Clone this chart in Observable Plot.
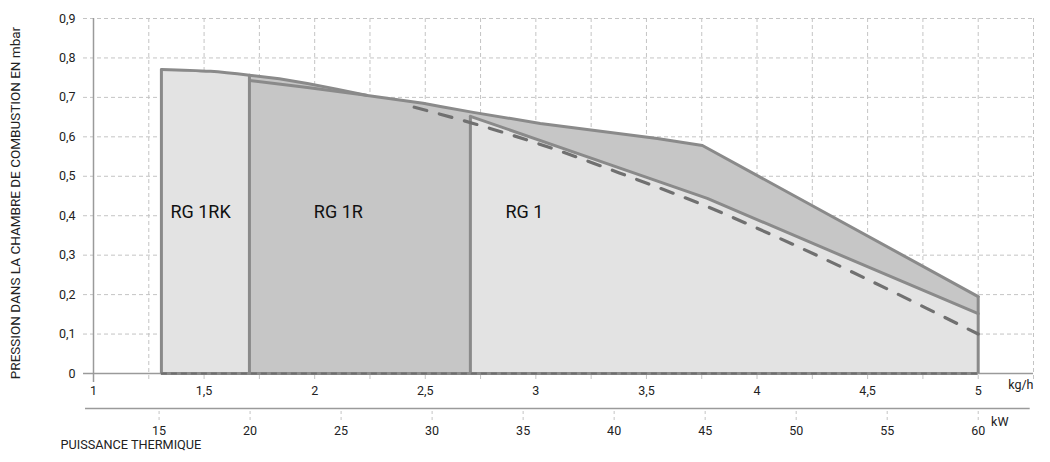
<!DOCTYPE html>
<html><head><meta charset="utf-8">
<script src="https://cdn.jsdelivr.net/npm/d3@7"></script>
<script src="https://cdn.jsdelivr.net/npm/@observablehq/plot@0.6"></script>
<style>body{margin:0;background:#fff;} svg{display:block}</style>
</head><body><div id="chart"></div>
<script>
// Axis ticks
const kgTicks = [1, 1.5, 2, 2.5, 3, 3.5, 4, 4.5, 5];
const kgGrid = [1.25, 1.5, 1.75, 2, 2.25, 2.5, 2.75, 3, 3.25, 3.5, 3.75, 4, 4.25, 4.5, 4.75, 5, 5.25];
const yTicks = [0, 0.1, 0.2, 0.3, 0.4, 0.5, 0.6, 0.7, 0.8, 0.9];
const kwTicks = [15, 20, 25, 30, 35, 40, 45, 50, 55, 60];

// RG 1RK top curve (kg/h, mbar)
const rkX = [1.307, 1.529, 1.705];
const rkY = [0.771, 0.766, 0.756];
// outer envelope (RG 1R / RG 1 max)
const envX = [1.705, 1.84, 1.967, 2.1, 2.238, 2.49, 2.568, 2.717, 3.02, 3.549, 3.753, 5.0];
const envY = [0.756, 0.747, 0.735, 0.721, 0.705, 0.685, 0.677, 0.662, 0.634, 0.596, 0.578, 0.195];
// RG 1R top curve
const rX = [1.705, 1.967, 2.238];
const rY = [0.743, 0.725, 0.705];
// RG 1 top line
const g1X = [2.704, 3.24, 3.775, 4.39, 5.0];
const g1Y = [0.652, 0.548, 0.444, 0.297, 0.152];
// dashed curve
const dashX = [2.45, 2.717, 3.088, 3.432, 3.775, 4.105, 4.435, 4.76, 5.0];
const dashY = [0.675, 0.634, 0.568, 0.497, 0.423, 0.342, 0.256, 0.167, 0.100];
// region labels
const labelNames = ["RG 1RK", "RG 1R", "RG 1"];
const labelX = [1.484, 2.107, 2.948];
const labelY = [0.408, 0.408, 0.408];

const kwToKg = kw => 5 - (60 - kw) * 0.0823;
const fmt = d => String(d).replace(".", ",");
const zip = (xs, ys) => xs.map((x, i) => ({x, y: ys[i]}));

const rk = zip(rkX, rkY), env = zip(envX, envY), r1 = zip(rX, rY), g1 = zip(g1X, g1Y), dash = zip(dashX, dashY);
const labels = labelNames.map((t, i) => ({t, x: labelX[i], y: labelY[i]}));
const edges = [
  {x: rkX[0], y: rkY[0]},
  {x: envX[0], y: envY[0]},
  {x: g1X[0], y: g1Y[0]},
  {x: envX[envX.length - 1], y: envY[envY.length - 1]}
];

const FONT = "Roboto, sans-serif";
const GRID = "#c4c4c4", AXIS = "#9a9a9a", OUT = "#8a8a8a", LIGHT = "#e3e3e3", MED = "#c6c6c6";

const chart = Plot.plot({
  width: 1050, height: 462,
  marginLeft: 93, marginRight: 17, marginTop: 18, marginBottom: 89,
  style: {fontFamily: FONT, fontSize: "12px", color: "#222", background: "#fff"},
  x: {domain: [1, 5.25]},
  y: {domain: [0, 0.9]},
  marks: [
    Plot.gridY(yTicks, {stroke: GRID, strokeOpacity: 1, strokeDasharray: "4,3", insetLeft: -10}),
    Plot.gridX(kgGrid, {stroke: GRID, strokeOpacity: 1, strokeDasharray: "4,3", insetBottom: -9}),
    Plot.ruleX([1], {y1: 0.9, y2: 0, insetBottom: -9, stroke: AXIS, strokeWidth: 1.5}),
    Plot.ruleY([0], {x1: 0.955, x2: 5.25, stroke: AXIS, strokeWidth: 1.5}),
    // second (kW) axis
    Plot.ruleY([0], {x1: 0.964, x2: 5.235, dy: 35, stroke: AXIS, strokeWidth: 1.5}),
    Plot.ruleX(kwTicks, {x: kwToKg, y1: 0, y2: 0, insetBottom: -9, dy: 38, stroke: GRID, strokeDasharray: "3,3"}),
    Plot.text(kwTicks, {x: kwToKg, y: () => 0, dy: 57, text: d => String(d), fill: "#222", fontSize: 12.5}),
    // areas
    Plot.areaY(env, {x: "x", y: "y", fill: MED}),
    Plot.areaY(rk, {x: "x", y: "y", fill: LIGHT, curve: "monotone-x"}),
    Plot.areaY(g1, {x: "x", y: "y", fill: LIGHT}),
    // outlines
    Plot.line(env, {x: "x", y: "y", stroke: OUT, strokeWidth: 3, strokeLinejoin: "round"}),
    Plot.line(rk, {x: "x", y: "y", stroke: OUT, strokeWidth: 3, curve: "monotone-x"}),
    Plot.line(r1, {x: "x", y: "y", stroke: OUT, strokeWidth: 3, curve: "monotone-x"}),
    Plot.line(g1, {x: "x", y: "y", stroke: OUT, strokeWidth: 3}),
    Plot.ruleX(edges, {x: "x", y1: 0, y2: "y", stroke: OUT, strokeWidth: 3}),
    Plot.ruleY([0], {x1: rkX[0], x2: 5.0, stroke: OUT, strokeWidth: 3}),
    Plot.ruleY([0], {x1: rkX[0], x2: 5.0, stroke: "#6e6e6e", strokeWidth: 2, strokeDasharray: "6,4"}),
    Plot.line(dash, {x: "x", y: "y", stroke: "#707070", strokeWidth: 3.2, strokeDasharray: "13,13", curve: "monotone-x"}),
    // labels
    Plot.text(labels, {x: "x", y: "y", text: "t", fontSize: 18, fill: "#111"}),
    // axes
    Plot.axisY({ticks: yTicks, tickFormat: fmt, tickSize: 0, tickPadding: 18, fontSize: 12.5, fill: "#222", label: null}),
    Plot.axisX({ticks: kgTicks, tickFormat: fmt, tickSize: 0, tickPadding: 13, fontSize: 12.5, fill: "#222", label: null}),
    Plot.text(["kg/h"], {frameAnchor: "bottom-right", dy: 15, fontSize: 12.5, fill: "#222"}),
    Plot.text(["kW"], {frameAnchor: "bottom-right", dx: -25, dy: 52, fontSize: 12.5, fill: "#222"}),
    Plot.text(["PUISSANCE THERMIQUE"], {frameAnchor: "bottom-left", textAnchor: "start", dx: -33, dy: 75, fontSize: 12.7, fill: "#222"}),
    Plot.text(["PRESSION DANS LA CHAMBRE DE COMBUSTION EN mbar"], {frameAnchor: "left", textAnchor: "middle", rotate: -90, dx: -78, dy: 7, fontSize: 13.5, fill: "#222"})
  ]
});
document.getElementById("chart").appendChild(chart);
</script>
</body></html>
